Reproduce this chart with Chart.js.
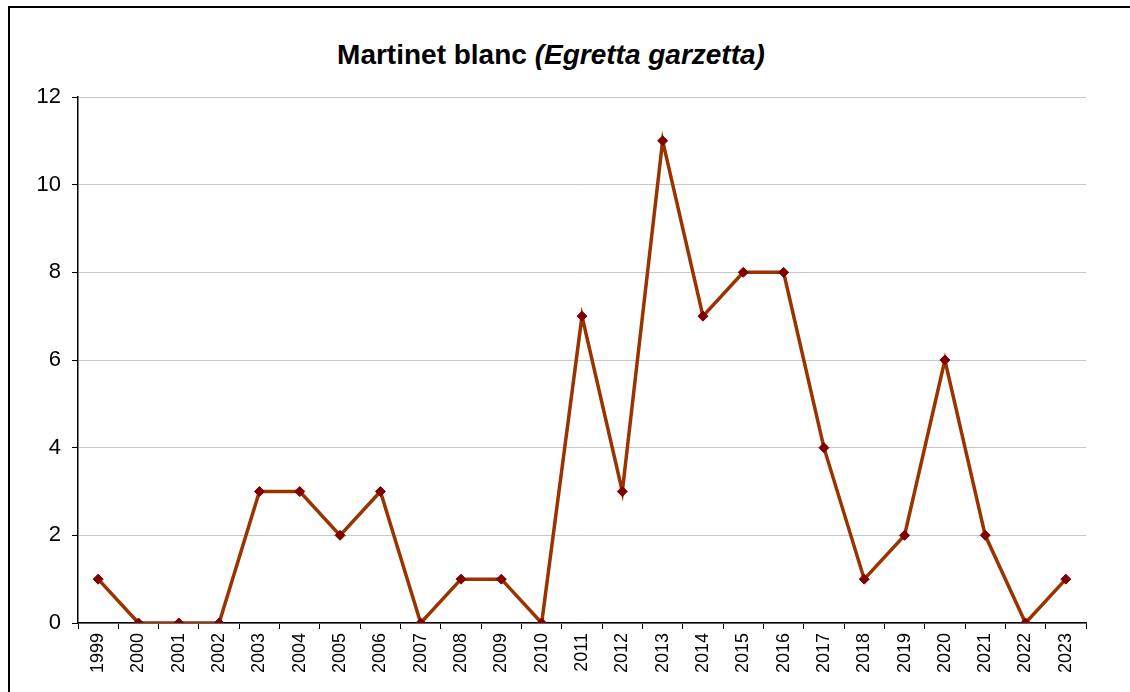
<!DOCTYPE html>
<html>
<head>
<meta charset="utf-8">
<script src="https://cdn.jsdelivr.net/npm/chart.js@4"></script>
<style>
  body { margin: 0; background: #fff; }
  #frame { position: absolute; left: 8px; top: 6px; width: 1140px; height: 700px; border: 2px solid #000; box-sizing: border-box; }
  #title { position: absolute; left: 0; top: 38px; width: 1102px; text-align: center; line-height: 34px;
    font-family: Arial, "Liberation Sans", sans-serif; font-size: 28px; font-weight: bold; color: #000; }
  #wrap { position: absolute; left: 0; top: 0; width: 1130px; height: 692px; }
</style>
</head>
<body>
<div id="frame"></div>
<div id="title">Martinet blanc <i>(Egretta garzetta)</i></div>
<div id="wrap"><canvas id="myChart" width="1130" height="692"></canvas></div>
<script>
const years = ["1999", "2000", "2001", "2002", "2003", "2004", "2005", "2006", "2007", "2008",
  "2009", "2010", "2011", "2012", "2013", "2014", "2015", "2016", "2017", "2018",
  "2019", "2020", "2021", "2022", "2023"];
const counts = [1, 0, 0, 0, 3, 3, 2, 3, 0, 1, 1, 0, 7, 3, 11, 7, 8, 8, 4, 1, 2, 6, 2, 0, 1];
const yTicks = [0, 2, 4, 6, 8, 10, 12];

const font = "Arial, 'Liberation Sans', sans-serif";

new Chart(document.getElementById("myChart").getContext("2d"), {
  type: "line",
  data: {
    labels: years,
    datasets: [
      {
        label: "Martinet blanc",
        data: counts,
        borderColor: "#993300",
        borderWidth: 3.5,
        pointStyle: "rectRot",
        pointRadius: 5,
        pointBackgroundColor: "#800000",
        pointBorderColor: "#800000",
        pointBorderWidth: 1,
        tension: 0,
        fill: false,
      },
    ],
  },
  options: {
    responsive: false,
    animation: false,
    layout: { padding: { top: 97, right: 44, left: 0, bottom: 0 } },
    plugins: {
      legend: { display: false },
      tooltip: { enabled: false },
      title: { display: false },
    },
    scales: {
      x: {
        offset: true,
        grid: { offset: true, drawOnChartArea: false, drawTicks: true, tickLength: 6, tickColor: "#000" },
        border: { display: true, color: "#000", width: 1.5 },
        ticks: { minRotation: 90, maxRotation: 90, autoSkip: false, padding: 4, color: "#000", font: { family: font, size: 18 } },
        afterFit: (scale) => { scale.height = 692 - 623; },
      },
      y: {
        min: 0,
        max: 12,
        afterBuildTicks: (scale) => { scale.ticks = yTicks.map((v) => ({ value: v })); },
        grid: { color: "#c8c8c8", lineWidth: 1, drawTicks: true, tickLength: 6, tickColor: "#000" },
        border: { display: true, color: "#000", width: 1.5 },
        ticks: { padding: 11, color: "#000", font: { family: font, size: 22 } },
        afterFit: (scale) => { scale.width = 78; },
      },
    },
  },
});
</script>
</body>
</html>
